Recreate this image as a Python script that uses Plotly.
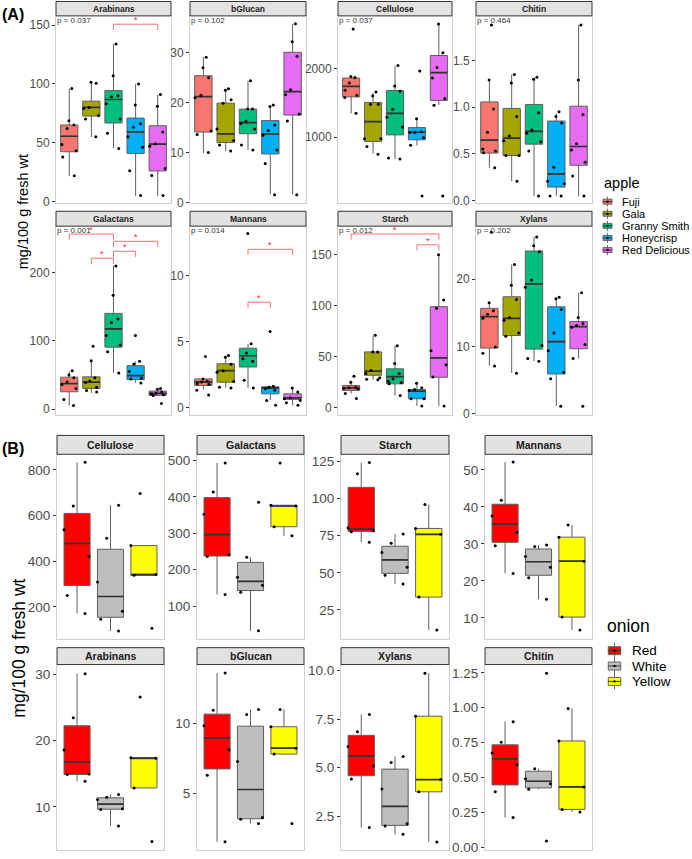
import plotly.graph_objects as go

W, H = 692, 859
FONT = "Liberation Sans, Arial, sans-serif"

# ---------------- categories ----------------
apple = ["Fuji", "Gala", "Granny Smith", "Honeycrisp", "Red Delicious"]
apple_colors = ["#F8766D", "#A3A500", "#00BF7D", "#00B0F6", "#E76BF3"]
onion = ["Red", "White", "Yellow"]
onion_colors = ["#FF0000", "#BEBEBE", "#FFFF00"]

# ---------------- (A) apple data ----------------
# box stats per group: [lower whisker, Q1, median, Q3, upper whisker]
A_arabinans_box = [[21.4, 42.2, 55.4, 65.0, 96.0], [54.6, 72.6, 80.0, 85.3, 101.3], [45.3, 66.7, 86.7, 94.3, 134.0],
                   [4.5, 40.8, 59.1, 70.9, 100.0], [4.5, 25.9, 48.7, 64.4, 90.6]]
A_arabinans_pts = [[96, 68.7, 65, 62, 48.4, 43, 37.7, 21.7], [101.3, 100.5, 80, 79, 73, 70, 55],
                   [134, 107, 90, 89, 83, 70, 58, 45], [100, 82, 66, 63, 55, 46, 26, 5], [91, 81, 59, 49, 47, 28, 22, 5]]

A_bglucan_box = [[9.9, 14.1, 21.2, 25.4, 29.1], [10.3, 12.0, 13.75, 19.9, 22.8], [10.5, 13.75, 16.0, 18.7, 24.4],
                 [1.6, 9.7, 13.75, 16.4, 19.3], [1.6, 17.5, 22.2, 30.1, 35.8]]
A_bglucan_pts = [[29.1, 27, 25, 21.5, 21, 14.3, 13.6, 10], [22.8, 22.5, 20.6, 19.9, 14.7, 12.4, 11.5, 10.3],
                 [24.4, 18.7, 18.7, 16.3, 15.8, 14.7, 11.5, 10.5], [19.5, 19.2, 15.5, 14.4, 13.4, 10.5, 7.8, 1.5],
                 [35.8, 32.2, 29.3, 22.6, 21.6, 17.7, 16.3, 1.5]]

A_cellulose_box = [[1348, 1588, 1743, 1864, 1885], [758, 936, 1226, 1507, 1646], [681, 1033, 1348, 1681, 2038],
                   [878, 961, 1072, 1140, 1275], [1468, 1536, 1942, 2193, 2652]]
A_cellulose_pts = [[2580, 1888, 1870, 1791, 1686, 1613, 1580, 1348], [1660, 1600, 1480, 1480, 975, 975, 865, 750],
                   [2048, 1748, 1671, 1406, 1290, 1150, 696, 681], [1966, 1270, 1080, 1067, 1067, 990, 880, 139],
                   [2652, 2232, 2016, 1865, 1565, 1468, 139]]

A_chitin_box = [[0.348, 0.507, 0.646, 1.056, 1.287], [0.205, 0.482, 0.667, 0.986, 1.35], [0.046, 0.603, 0.741, 1.029, 1.316],
                [0.046, 0.142, 0.284, 0.851, 0.933], [0.046, 0.376, 0.578, 1.01, 1.88]]
A_chitin_pts = [[1.88, 1.29, 0.98, 0.73, 0.55, 0.53, 0.51, 0.35], [1.35, 1.26, 0.90, 0.69, 0.64, 0.48, 0.48, 0.205],
                [1.32, 1.30, 0.94, 0.755, 0.72, 0.63, 0.53, 0.046], [0.95, 0.90, 0.83, 0.355, 0.205, 0.177, 0.046, 0.046],
                [1.88, 1.29, 0.92, 0.606, 0.54, 0.41, 0.26, 0.046]]

A_galactans_box = [[5.4, 25.3, 37.4, 46.7, 55.4], [23.9, 30.2, 39.4, 47.2, 70.9], [53, 90.8, 117.5, 140.3, 210.6],
                   [38.4, 43.2, 49.1, 63.6, 70], [20, 20, 22.9, 26.3, 29.7]]
A_galactans_pts = [[56, 50, 46, 40, 36, 30, 14, 5], [92, 71, 46, 41, 39, 32, 27, 25], [210, 167, 132, 127, 108, 94, 84, 53],
                   [108, 70, 66, 55, 45, 44, 38], [30, 29, 25, 23, 22, 21, 20, 8]]

A_mannans_box = [[1.4, 1.7, 1.97, 2.2, 2.23], [1.52, 1.95, 2.82, 3.35, 3.95], [1.52, 3.1, 3.95, 4.52, 4.85],
                 [0.6, 1.07, 1.52, 1.6, 1.7], [0.2, 0.65, 0.77, 1.07, 1.52]]
A_mannans_pts = [[3.9, 2.2, 2.03, 1.97, 1.85, 1.8, 1.35, 0.98], [3.97, 3.83, 3.3, 2.82, 2.7, 2.0, 1.57, 1.52],
                 [13.2, 4.85, 4.15, 3.72, 3.53, 2.1, 1.52], [5.78, 1.65, 1.57, 1.45, 1.35, 0.57, 0.2],
                 [1.52, 1.2, 0.77, 0.7, 0.57, 0.4, 0.2]]

A_starch_box = [[14.2, 17.2, 19.7, 22.0, 25.2], [27.7, 32.0, 36.1, 54.9, 70.7], [12.2, 23.6, 30.6, 38.3, 61.0],
                [1.9, 9.0, 16.5, 18.1, 24.3], [1.9, 30.1, 49.0, 99.2, 150.0]]
A_starch_pts = [[31, 25.2, 20.4, 19.7, 19, 18.8, 14.2, 9.3], [71.3, 54.9, 54.9, 36.7, 33.8, 29.6, 28, 27.7],
                [61, 43.5, 33.8, 28.4, 26.2, 25, 23.6, 12.2], [24.3, 19.7, 18, 17, 9, 9, 1.9],
                [150, 105.6, 97.6, 55.9, 42.3, 30.4, 1.9]]

A_xylans_box = [[7.13, 9.75, 14.43, 15.66, 16.4], [6.06, 11.62, 14.18, 17.39, 22.2], [7.8, 9.6, 19.3, 24.2, 26.3],
                [1.1, 5.9, 10.7, 15.9, 17.3], [8.2, 9.65, 12.95, 13.7, 18.0]]
A_xylans_pts = [[27.0, 16.5, 15.3, 14.8, 14.2, 9.9, 9.0, 7.1], [22.2, 19.1, 17.0, 14.3, 13.9, 12.0, 11.5, 6.0],
                [26.3, 25.0, 24.1, 19.9, 18.8, 10.15, 8.2, 7.8], [17.3, 17.1, 15.5, 12.0, 9.35, 6.1, 5.2, 1.1],
                [18.0, 14.3, 13.4, 13.1, 12.85, 10.3, 8.2, 1.1]]

A_titles = ["Arabinans", "bGlucan", "Cellulose", "Chitin", "Galactans", "Mannans", "Starch", "Xylans"]
A_pvalues = ["p = 0.037", "p = 0.102", "p = 0.037", "p = 0.464", "p = 0.001", "p = 0.014", "p = 0.012", "p = 0.202"]
A_boxes = [A_arabinans_box, A_bglucan_box, A_cellulose_box, A_chitin_box,
           A_galactans_box, A_mannans_box, A_starch_box, A_xylans_box]
A_points = [A_arabinans_pts, A_bglucan_pts, A_cellulose_pts, A_chitin_pts,
            A_galactans_pts, A_mannans_pts, A_starch_pts, A_xylans_pts]
A_yranges = [[-1.7, 157.9], [-0.2, 37.4], [33, 2772], [-0.032, 1.979],
             [-8.2, 268.4], [-0.5, 13.75], [-6.5, 178], [-0.15, 27.9]]
A_yticks = [[0, 50, 100, 150], [0, 10, 20, 30], [1000, 2000], [0, 0.5, 1.0, 1.5],
            [0, 100, 200], [0, 5, 10], [0, 50, 100, 150], [0, 10, 20]]
A_yticktext = [["0", "50", "100", "150"], ["0", "10", "20", "30"], ["1000", "2000"], ["0.0", "0.5", "1.0", "1.5"],
               ["0", "100", "200"], ["0", "5", "10"], ["0", "50", "100", "150"], ["0", "10", "20"]]
# significance brackets: (group 1, group 2, bracket height)
A_brackets = [[("Granny Smith", "Red Delicious", 150.8)], [], [], [],
              [("Fuji", "Granny Smith", 256.8), ("Granny Smith", "Red Delicious", 246.1),
               ("Granny Smith", "Honeycrisp", 231.5), ("Gala", "Granny Smith", 221.4)],
              [("Granny Smith", "Red Delicious", 12.0), ("Granny Smith", "Honeycrisp", 8.0)],
              [("Fuji", "Red Delicious", 170.4), ("Honeycrisp", "Red Delicious", 159.7)],
              []]

# ---------------- (B) onion data ----------------
B_cellulose_box = [[171, 293, 478, 609, 833], [94, 154, 245, 452, 645], [338, 338, 341, 468, 468]]
B_cellulose_pts = [[833, 641, 537, 420, 250, 171], [645, 500, 309, 181, 145, 94], [696, 468, 341, 338, 106]]
B_galactans_box = [[132, 237.6, 296.5, 398, 493], [32, 142.8, 168, 220, 234], [293, 318, 375, 377, 377]]
B_galactans_pts = [[493, 413.6, 352, 241, 236.5, 132], [385, 234, 179, 157, 138, 32], [493, 377, 375, 318, 293]]
B_starch_box = [[70.6, 77.9, 79.4, 107.6, 124.3], [42.5, 49.6, 58.7, 67.9, 76.2], [11.4, 33.6, 75.9, 79.9, 96.0]]
B_starch_pts = [[124.3, 116.7, 80.4, 78.4, 77.7, 70.6], [76.2, 69.9, 63.7, 53.7, 48.3, 42.5], [96.0, 79.9, 75.9, 33.6, 11.4]]
B_mannans_box = [[22.0, 30.4, 35.3, 40.7, 52.1], [15.0, 21.5, 25.15, 28.6, 29.7], [6.7, 10.2, 25.3, 31.8, 35.1]]
B_mannans_pts = [[52.1, 41.8, 37.5, 33.1, 29.5, 22.0], [29.7, 29.3, 26.6, 23.7, 20.8, 15.0], [35.1, 31.8, 25.3, 10.2, 6.7]]
B_arabinans_box = [[13.85, 14.88, 16.78, 22.24, 30.1], [7.1, 9.63, 10.4, 11.36, 11.85], [12.85, 12.85, 17.35, 17.4, 17.4]]
B_arabinans_pts = [[30.1, 23.45, 18.6, 14.96, 14.86, 13.85], [11.85, 11.45, 11.1, 9.7, 9.6, 7.1], [26.6, 17.4, 17.35, 12.85, 4.76]]
B_bglucan_box = [[1.55, 6.75, 8.97, 10.66, 13.6], [2.85, 3.19, 5.28, 9.8, 10.99], [7.81, 7.81, 8.23, 9.76, 11.0]]
B_bglucan_pts = [[13.6, 10.94, 9.83, 8.11, 6.29, 1.55], [10.99, 10.64, 7.28, 3.28, 3.16, 2.85], [11.0, 9.76, 8.23, 7.81, 2.85]]
B_xylans_box = [[1.91, 4.58, 5.59, 6.66, 7.74], [1.56, 2.02, 3.0, 4.92, 5.57], [1.17, 3.75, 4.38, 7.65, 9.86]]
B_xylans_pts = [[7.74, 6.85, 6.08, 5.1, 4.41, 1.91], [5.57, 5.26, 3.9, 2.11, 1.99, 1.56], [9.86, 7.65, 4.38, 3.75, 1.17]]
B_chitin_box = [[0.213, 0.447, 0.633, 0.734, 0.9], [0.416, 0.426, 0.4735, 0.545, 0.563], [0.253, 0.272, 0.433, 0.762, 0.994]]
B_chitin_pts = [[0.9, 0.753, 0.675, 0.592, 0.398, 0.213], [1.247, 0.563, 0.492, 0.455, 0.416, 0.045],
                [0.994, 0.762, 0.433, 0.272, 0.253]]

B_titles = ["Cellulose", "Galactans", "Starch", "Mannans", "Arabinans", "bGlucan", "Xylans", "Chitin"]
B_boxes = [B_cellulose_box, B_galactans_box, B_starch_box, B_mannans_box,
           B_arabinans_box, B_bglucan_box, B_xylans_box, B_chitin_box]
B_points = [B_cellulose_pts, B_galactans_pts, B_starch_pts, B_mannans_pts,
            B_arabinans_pts, B_bglucan_pts, B_xylans_pts, B_chitin_pts]
B_yranges = [[60, 868], [10.3, 517], [5.5, 129.9], [4.34, 54.2],
             [3.46, 31.5], [0.96, 14.2], [0.75, 10.31], [-0.019, 1.309]]
B_yticks = [[200, 400, 600, 800], [100, 200, 300, 400, 500], [25, 50, 75, 100, 125], [10, 20, 30, 40, 50],
            [10, 20, 30], [5, 10], [2.5, 5.0, 7.5, 10.0], [0, 0.25, 0.5, 0.75, 1.0, 1.25]]
B_yticktext = [["200", "400", "600", "800"], ["100", "200", "300", "400", "500"], ["25", "50", "75", "100", "125"],
               ["10", "20", "30", "40", "50"], ["10", "20", "30"], ["5", "10"], ["2.5", "5.0", "7.5", "10.0"],
               ["0.00", "0.25", "0.50", "0.75", "1.00", "1.25"]]

# ---------------- layout geometry (pixels) ----------------
A_cols = [(56, 171), (190, 306), (338, 452), (476, 592)]
A_rows = [(0.5, 15, 204), (212, 227, 417)]          # strip top, panel top, panel bottom
B_cols = [(57, 164), (197, 304), (341, 449), (485, 592)]
B_rows = [(438, 457, 643), (652, 669, 856)]

fig = go.Figure()
layout = {}
shapes, annotations = [], []


def px(x):
    return x / W


def py(y):
    return 1 - y / H


def add_panel(k, cats, colors, box, pts, yrange, yticks, yticktext, xpx, ypx, title,
              tick_size, strip_size, pval, brackets, bw):
    suffix = "" if k == 1 else str(k)
    xa, ya = "x" + suffix, "y" + suffix
    x0, x1 = xpx
    st, pt, pb = ypx
    for i, c in enumerate(cats):
        lo, q1, med, q3, hi = box[i]
        fig.add_trace(go.Box(x=[c], lowerfence=[lo], q1=[q1], median=[med], q3=[q3], upperfence=[hi],
                             fillcolor=colors[i], line=dict(color="#5f5f5f", width=1), width=bw,
                             whiskerwidth=0, boxpoints=False, xaxis=xa, yaxis=ya, showlegend=False,
                             hoverinfo="skip"))
        fig.add_trace(go.Box(x=[c], lowerfence=[med], q1=[med], median=[med], q3=[med], upperfence=[med],
                             fillcolor="rgba(0,0,0,0)", line=dict(color="#333333", width=1.7), width=bw,
                             whiskerwidth=0, boxpoints=False, xaxis=xa, yaxis=ya, showlegend=False,
                             hoverinfo="skip"))
        fig.add_trace(go.Box(x=[c] * len(pts[i]), y=pts[i], boxpoints="all", jitter=1.0, pointpos=0,
                             fillcolor="rgba(0,0,0,0)", line=dict(color="rgba(0,0,0,0)", width=0),
                             marker=dict(color="black", size=3, line=dict(width=0)), width=0.92,
                             whiskerwidth=0, xaxis=xa, yaxis=ya, showlegend=False, hoverinfo="y"))
    span = yrange[1] - yrange[0]
    for g1, g2, yv in brackets:
        tip = 0.03 * span
        fig.add_trace(go.Scatter(x=[g1, g1, g2, g2], y=[yv - tip, yv, yv, yv - tip], mode="lines",
                                 line=dict(color="#ff7070", width=1), xaxis=xa, yaxis=ya,
                                 showlegend=False, hoverinfo="skip"))
        annotations.append(dict(text="*", x=(cats.index(g1) + cats.index(g2)) / 2, y=yv, xref=xa, yref=ya,
                                xanchor="center", yanchor="bottom", showarrow=False, yshift=-3,
                                font=dict(size=9, color="#ff2020")))
    common = dict(showgrid=False, zeroline=False, showline=True, mirror=True, linecolor="#cfcfcf",
                  linewidth=1, fixedrange=True)
    layout["xaxis" + suffix] = dict(domain=[px(x0), px(x1)], type="category", categoryorder="array",
                                    categoryarray=cats, range=[-0.6, len(cats) - 0.4], showticklabels=False,
                                    ticks="", anchor=ya, **common)
    layout["yaxis" + suffix] = dict(domain=[py(pb), py(pt)], range=yrange, tickvals=yticks, ticktext=yticktext,
                                    ticks="outside", ticklen=3, tickwidth=0.8, tickcolor="#333333",
                                    tickfont=dict(size=tick_size, color="#4d4d4d"), anchor=xa, **common)
    shapes.append(dict(type="rect", xref="paper", yref="paper", x0=px(x0), x1=px(x1), y0=py(pt), y1=py(st),
                       fillcolor="#E4E1E1", line=dict(color="#333333", width=1), layer="above"))
    annotations.append(dict(text="<b>" + title + "</b>", x=px((x0 + x1) / 2), y=py((st + pt) / 2),
                            xref="paper", yref="paper", xanchor="center", yanchor="middle", showarrow=False,
                            font=dict(size=strip_size, color="#1a1a1a")))
    if pval:
        annotations.append(dict(text=pval, x=0, y=1, xref=xa + " domain", yref=ya + " domain",
                                xanchor="left", yanchor="top", showarrow=False, yshift=2, xshift=-1,
                                font=dict(size=8, color="#333333")))


k = 1
for j in range(8):
    r, c = divmod(j, 4)
    add_panel(k, apple, apple_colors, A_boxes[j], A_points[j], A_yranges[j], A_yticks[j], A_yticktext[j],
              A_cols[c], A_rows[r], A_titles[j], 12, 8.5, A_pvalues[j], A_brackets[j], 0.78)
    k += 1
for j in range(8):
    r, c = divmod(j, 4)
    add_panel(k, onion, onion_colors, B_boxes[j], B_points[j], B_yranges[j], B_yticks[j], B_yticktext[j],
              B_cols[c], B_rows[r], B_titles[j], 13.5, 10.5, None, [], 0.78)
    k += 1


def draw_legend(title, cats, colors, title_xy, title_size, key_cx, key_w, key_h, y0, dy, text_x, text_size):
    annotations.append(dict(text=title, x=px(title_xy[0]), y=py(title_xy[1]), xref="paper", yref="paper",
                            xanchor="left", yanchor="middle", showarrow=False,
                            font=dict(size=title_size, color="black")))
    for i, (c, col) in enumerate(zip(cats, colors)):
        cy = y0 + i * dy
        shapes.append(dict(type="line", xref="paper", yref="paper", x0=px(key_cx), x1=px(key_cx),
                           y0=py(cy - key_h), y1=py(cy + key_h), line=dict(color="#666666", width=1)))
        shapes.append(dict(type="rect", xref="paper", yref="paper", x0=px(key_cx - key_w / 2),
                           x1=px(key_cx + key_w / 2), y0=py(cy + key_h / 2), y1=py(cy - key_h / 2),
                           fillcolor=col, line=dict(color="#666666", width=1)))
        shapes.append(dict(type="line", xref="paper", yref="paper", x0=px(key_cx - key_w / 2),
                           x1=px(key_cx + key_w / 2), y0=py(cy), y1=py(cy), line=dict(color="#333333", width=1)))
        shapes.append(dict(type="circle", xref="paper", yref="paper", x0=px(key_cx - 1.2), x1=px(key_cx + 1.2),
                           y0=py(cy + 1.2), y1=py(cy - 1.2), fillcolor="black", line=dict(width=0)))
        annotations.append(dict(text=c, x=px(text_x), y=py(cy), xref="paper", yref="paper", xanchor="left",
                                yanchor="middle", showarrow=False, font=dict(size=text_size, color="black")))


draw_legend("apple", apple, apple_colors, (602, 183), 14.5, 607.5, 9, 5, 202.3, 12.2, 620, 11)
draw_legend("onion", onion, onion_colors, (605, 630), 17.5, 614.5, 12.5, 8, 655, 15.5, 630, 13.5)

# panel labels and axis titles
annotations.append(dict(text="<b>(A)</b>", x=0, y=py(13.5), xref="paper", yref="paper", xanchor="left",
                        yanchor="middle", showarrow=False, font=dict(size=16, color="black")))
annotations.append(dict(text="<b>(B)</b>", x=0, y=py(451), xref="paper", yref="paper", xanchor="left",
                        yanchor="middle", showarrow=False, font=dict(size=16, color="black")))
annotations.append(dict(text="mg/100 g fresh wt", x=px(23), y=py(213), xref="paper", yref="paper",
                        xanchor="center", yanchor="middle", textangle=-90, showarrow=False,
                        font=dict(size=14.5, color="black")))
annotations.append(dict(text="mg/100 g fresh wt", x=px(19), y=py(653), xref="paper", yref="paper",
                        xanchor="center", yanchor="middle", textangle=-90, showarrow=False,
                        font=dict(size=17.5, color="black")))

fig.update_layout(width=W, height=H, autosize=False, margin=dict(l=0, r=0, t=0, b=0),
                  paper_bgcolor="white", plot_bgcolor="white", boxmode="overlay", showlegend=False,
                  font=dict(family=FONT, color="black"), shapes=shapes, annotations=annotations, **layout)

fig.write_html("out.html", config={"displayModeBar": False, "staticPlot": False},
               post_script="document.body.style.margin='0';document.body.style.padding='0';"
                           "document.body.style.overflow='hidden';")
